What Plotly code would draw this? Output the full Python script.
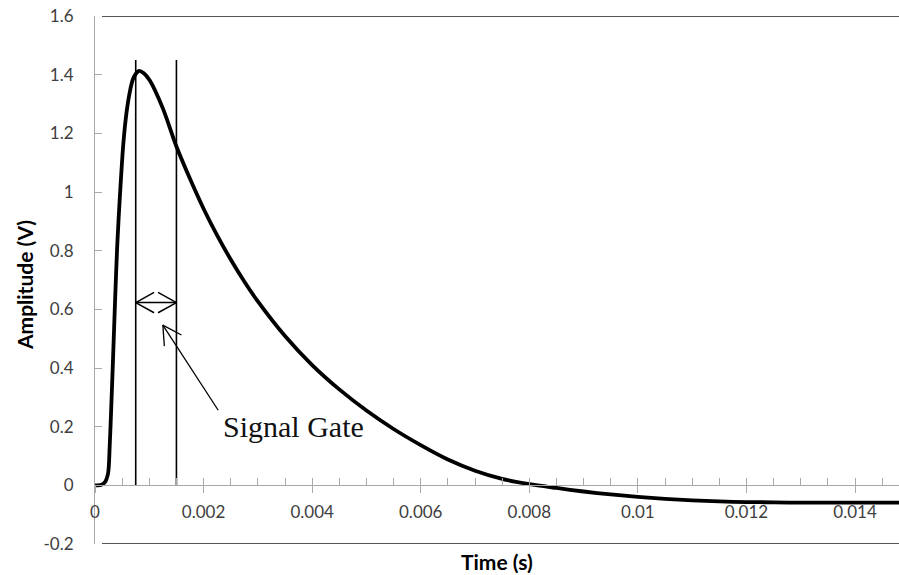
import math
import plotly.graph_objects as go

# Measured pulse: time (s) and amplitude (V)
time_s = [0.0, 0.00005, 0.00012, 0.00018, 0.00024, 0.00027, 0.00030, 0.00033,
          0.00037, 0.00041, 0.00046, 0.00052, 0.00058, 0.00064, 0.00070,
          0.00076, 0.00081, 0.00090, 0.00101, 0.00125, 0.0015,
          0.00175, 0.0020, 0.00225, 0.0025, 0.00275, 0.0030, 0.0035,
          0.0040, 0.0045, 0.0050, 0.0055, 0.0060, 0.0065, 0.0070, 0.0075,
          0.0080, 0.0085, 0.0090, 0.0095, 0.0100, 0.0105, 0.0110, 0.0115,
          0.0120, 0.0125, 0.0130, 0.0140, 0.01481]
amplitude_v = [0.0, 0.0, 0.002, 0.010, 0.040, 0.130, 0.270, 0.420,
               0.630, 0.820, 0.990, 1.160, 1.270, 1.340, 1.385,
               1.405, 1.413, 1.405, 1.380, 1.285, 1.155,
               1.045, 0.943, 0.852, 0.770, 0.695, 0.627, 0.509,
               0.410, 0.327, 0.255, 0.192, 0.137, 0.088, 0.050, 0.022,
               0.004, -0.009, -0.021, -0.031, -0.039, -0.046, -0.051, -0.055,
               -0.057, -0.058, -0.059, -0.059, -0.059]

# Signal gate window
gate_start = 0.00075
gate_end = 0.0015
gate_top = 1.45
gate_arrow_level = 0.623

# Pointer from the "Signal Gate" label
pointer_tip = (0.00125, 0.546)
pointer_tail = (0.00227, 0.256)
label_pos = (0.00233, 0.2)

# Axis ticks
x_ticks = [0, 0.002, 0.004, 0.006, 0.008, 0.010, 0.012, 0.014]
x_labels = ["0", "0.002", "0.004", "0.006", "0.008", "0.01", "0.012", "0.014"]
y_ticks = [-0.2, 0, 0.2, 0.4, 0.6, 0.8, 1.0, 1.2, 1.4, 1.6]
y_labels = ["-0.2", "0", "0.2", "0.4", "0.6", "0.8", "1", "1.2", "1.4", "1.6"]

x_range = [0, 0.01481]
y_range = [-0.2, 1.6]

W, H = 899, 575
MARGIN = dict(l=95, r=0, t=16, b=31)
PLOT_W = W - MARGIN["l"] - MARGIN["r"]
PLOT_H = H - MARGIN["t"] - MARGIN["b"]
PX_PER_X = PLOT_W / (x_range[1] - x_range[0])
PX_PER_Y = PLOT_H / (y_range[1] - y_range[0])

AXIS_GREY = "#a9a9a9"
LABEL_GREY = "#404040"
TICK_FONT = dict(family="Lato", size=17, color=LABEL_GREY)
TITLE_FONT = dict(family="Lato", size=21, color="#000000")


def open_head(tip, tail, length=21.0, half_angle_deg=29.0):
    """Two arms of an open 'V' arrowhead at `tip`, pointing away from `tail`."""
    dx = (tail[0] - tip[0]) * PX_PER_X
    dy = (tail[1] - tip[1]) * PX_PER_Y
    n = math.hypot(dx, dy)
    ux, uy = dx / n, dy / n
    a = math.radians(half_angle_deg)
    arms = []
    for s in (1, -1):
        rx = ux * math.cos(s * a) - uy * math.sin(s * a)
        ry = ux * math.sin(s * a) + uy * math.cos(s * a)
        arms.append((tip[0] + length * rx / PX_PER_X, tip[1] + length * ry / PX_PER_Y))
    return [arms[0][0], tip[0], arms[1][0]], [arms[0][1], tip[1], arms[1][1]]


def arrow_trace(tip, tail, heads_at_both_ends=False, width=1.4):
    xs = [tail[0], tip[0], None]
    ys = [tail[1], tip[1], None]
    hx, hy = open_head(tip, tail)
    xs += hx + [None]
    ys += hy + [None]
    if heads_at_both_ends:
        hx, hy = open_head(tail, tip)
        xs += hx
        ys += hy
    return go.Scatter(x=xs, y=ys, mode="lines",
                      line=dict(color="#000000", width=width),
                      hoverinfo="skip", showlegend=False)


fig = go.Figure()

fig.add_trace(go.Scatter(
    x=time_s, y=amplitude_v, mode="lines",
    line=dict(color="#000000", width=3.8, shape="spline", smoothing=0.8),
    hoverinfo="x+y", showlegend=False,
))

# Gate boundaries
for gx in (gate_start, gate_end):
    fig.add_trace(go.Scatter(
        x=[gx, gx], y=[0, gate_top], mode="lines",
        line=dict(color="#000000", width=1.6),
        xaxis="x2", yaxis="y", hoverinfo="skip", showlegend=False,
    ))

# Double-headed arrow spanning the gate, and the label pointer
fig.add_trace(arrow_trace((gate_end, gate_arrow_level),
                          (gate_start, gate_arrow_level),
                          heads_at_both_ends=True, width=1.5))
fig.add_trace(arrow_trace(pointer_tip, pointer_tail, width=1.3))

x_axis_pos = (0 - y_range[0]) / (y_range[1] - y_range[0])

fig.update_layout(
    width=W, height=H,
    margin=MARGIN,
    paper_bgcolor="white", plot_bgcolor="white",
    xaxis=dict(
        range=x_range, anchor="free", position=x_axis_pos,
        showgrid=False, zeroline=False,
        showline=True, linecolor=AXIS_GREY, linewidth=1,
        tickmode="array", tickvals=x_ticks, ticktext=x_labels,
        ticks="outside", ticklen=7, tickcolor=AXIS_GREY, tickwidth=1,
        tickfont=TICK_FONT, ticklabelstandoff=4,
    ),
    xaxis2=dict(
        range=x_range, overlaying="x", anchor="free", position=x_axis_pos,
        showgrid=False, zeroline=False, showline=False,
        tickmode="linear", tick0=0, dtick=0.0005,
        ticks="inside", ticklen=7, tickcolor=AXIS_GREY, tickwidth=1,
        showticklabels=False,
    ),
    yaxis=dict(
        range=y_range, showgrid=False, zeroline=False,
        showline=True, linecolor=AXIS_GREY, linewidth=1,
        tickmode="array", tickvals=y_ticks, ticktext=y_labels,
        ticks="inside", ticklen=7, tickcolor=AXIS_GREY, tickwidth=1,
        tickfont=TICK_FONT, ticklabelstandoff=17,
    ),
    shapes=[
        dict(type="line", xref="paper", yref="y", x0=7 / PLOT_W, x1=1,
             y0=y_range[1], y1=y_range[1], line=dict(color="#1e1e1e", width=1.6)),
        dict(type="line", xref="paper", yref="y", x0=7 / PLOT_W, x1=1,
             y0=y_range[0], y1=y_range[0], line=dict(color="#1e1e1e", width=1.6)),
    ],
    annotations=[
        dict(x=label_pos[0], y=label_pos[1], xref="x", yref="y",
             text="Signal Gate", showarrow=False,
             xanchor="left", yanchor="middle",
             font=dict(family="Liberation Serif", size=30, color="#111111")),
        # axis titles
        dict(x=0.5, y=0.0, xref="paper", yref="paper", yshift=-17,
             text="<b>Time (s)</b>", showarrow=False,
             xanchor="center", yanchor="middle", font=TITLE_FONT),
        dict(x=-0.0883, y=0.4905, xref="paper", yref="paper",
             text="<b>Amplitude (V)</b>", showarrow=False, textangle=-90,
             xanchor="center", yanchor="middle", font=TITLE_FONT),
    ],
)

fig.write_html("out.html")
